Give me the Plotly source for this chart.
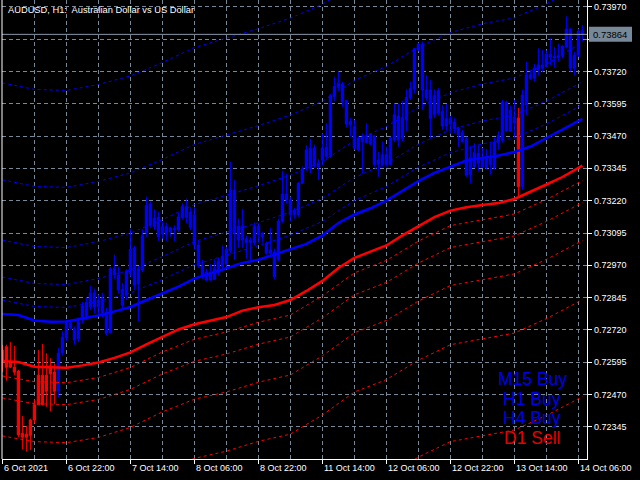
import plotly.graph_objects as go

# ---------------- data (prices in points = 1e-5) ----------------
bar_index = list(range(146))
open_pts = [72642, 72655, 72591, 72576, 72561, 72320, 72305, 72312, 72372, 72431,
            72545, 72483, 72581, 72483, 72483, 72632, 72689, 72746, 72681, 72686,
            72759, 72771, 72810, 72864, 72836, 72844, 72787, 72710, 72957, 72932,
            72816, 72854, 72939, 73037, 72898, 72952, 73096, 73208, 73153, 73156,
            73091, 73120, 73099, 73107, 73107, 73156, 73197, 73177, 73165, 73049,
            72968, 72944, 72913, 72916, 72941, 72965, 72975, 73027, 73262, 73068,
            73122, 73073, 73058, 73058, 73122, 73094, 73055, 73030, 73022, 72991,
            73141, 73246, 73223, 73166, 73166, 73288, 73344, 73344, 73424, 73352,
            73378, 73391, 73391, 73623, 73675, 73672, 73607, 73528, 73507, 73417,
            73450, 73445, 73478, 73471, 73360, 73398, 73360, 73360, 73553, 73455,
            73460, 73533, 73618, 73651, 73827, 73827, 73649, 73649, 73553, 73646,
            73566, 73509, 73538, 73525, 73502, 73484, 73460, 73321, 73352, 73404,
            73386, 73347, 73360, 73347, 73445, 73455, 73602, 73489, 73544, 73540,
            73275, 73591, 73694, 73694, 73745, 73733, 73740, 73787, 73779, 73774,
            73779, 73815, 73885, 73733, 73784, 73877]
high_pts = [72662, 72663, 72673, 72658, 72565, 72387, 72348, 72377, 72452, 72642,
            72666, 72630, 72611, 72591, 72650, 72715, 72759, 72759, 72733, 72769,
            72828, 72848, 72890, 72880, 72857, 72864, 72805, 72964, 73011, 72965,
            72901, 72955, 73112, 73045, 72965, 73110, 73236, 73218, 73187, 73177,
            73138, 73135, 73120, 73125, 73174, 73210, 73228, 73196, 73196, 73068,
            72991, 72957, 72975, 72994, 73001, 73048, 73042, 73370, 73300, 73151,
            73189, 73086, 73079, 73135, 73133, 73099, 73063, 73115, 73035, 73151,
            73336, 73324, 73236, 73192, 73293, 73352, 73435, 73460, 73437, 73381,
            73481, 73520, 73633, 73700, 73721, 73680, 73610, 73540, 73533, 73471,
            73481, 73520, 73482, 73473, 73409, 73450, 73429, 73468, 73597, 73597,
            73607, 73651, 73680, 73811, 73832, 73836, 73706, 73687, 73651, 73656,
            73590, 73595, 73548, 73540, 73507, 73494, 73468, 73432, 73442, 73437,
            73424, 73420, 73442, 73463, 73489, 73610, 73607, 73587, 73610, 73579,
            73649, 73758, 73725, 73750, 73810, 73804, 73802, 73849, 73815, 73828,
            73823, 73934, 73888, 73797, 73885, 73900]
low_pts = [72557, 72524, 72573, 72545, 72306, 72258, 72250, 72255, 72359, 72430,
           72428, 72423, 72405, 72433, 72459, 72622, 72678, 72723, 72663, 72673,
           72747, 72759, 72797, 72785, 72779, 72769, 72697, 72707, 72918, 72862,
           72797, 72836, 72926, 72875, 72754, 72944, 73081, 73115, 73107, 73065,
           73073, 73065, 73081, 73063, 73099, 73146, 73133, 73107, 73030, 72960,
           72918, 72910, 72911, 72913, 72929, 72957, 72965, 73017, 72991, 73037,
           73037, 72996, 72991, 73048, 73058, 73058, 73011, 73011, 72916, 72986,
           73135, 73210, 73141, 73151, 73158, 73285, 73336, 73326, 73347, 73300,
           73357, 73378, 73386, 73607, 73649, 73584, 73504, 73468, 73417, 73411,
           73326, 73442, 73436, 73352, 73313, 73352, 73352, 73357, 73447, 73429,
           73450, 73489, 73610, 73636, 73798, 73571, 73607, 73460, 73540, 73552,
           73494, 73491, 73478, 73481, 73429, 73445, 73313, 73288, 73347, 73334,
           73347, 73342, 73321, 73342, 73417, 73445, 73486, 73486, 73467, 73236,
           73262, 73552, 73687, 73681, 73707, 73718, 73735, 73745, 73735, 73758,
           73771, 73810, 73720, 73707, 73776, 73836]
close_pts = [72596, 72576, 72576, 72557, 72314, 72305, 72317, 72372, 72431, 72545,
             72431, 72545, 72550, 72557, 72630, 72692, 72743, 72728, 72725, 72751,
             72813, 72826, 72863, 72808, 72810, 72787, 72707, 72957, 72934, 72875,
             72877, 72947, 73032, 72893, 72957, 73086, 73202, 73125, 73120, 73081,
             73120, 73089, 73115, 73112, 73158, 73197, 73156, 73118, 73049, 72970,
             72929, 72913, 72942, 72957, 72987, 73004, 73032, 73262, 73094, 73122,
             73068, 73058, 73068, 73120, 73089, 73081, 73017, 73017, 72926, 73141,
             73246, 73223, 73166, 73184, 73288, 73344, 73417, 73422, 73355, 73365,
             73424, 73427, 73626, 73662, 73659, 73602, 73517, 73514, 73424, 73463,
             73466, 73468, 73440, 73360, 73378, 73360, 73398, 73463, 73455, 73548,
             73540, 73620, 73654, 73809, 73804, 73649, 73618, 73538, 73628, 73559,
             73509, 73538, 73517, 73499, 73476, 73450, 73319, 73386, 73406, 73365,
             73350, 73386, 73388, 73447, 73473, 73602, 73491, 73571, 73521, 73275,
             73629, 73707, 73709, 73733, 73727, 73745, 73787, 73776, 73774, 73781,
             73818, 73885, 73733, 73784, 73877, 73864]
red_bars = list(range(0, 14)) + [129]

ma_index = list(range(0, 145, 4)) + [145]
blue_ma_pts = [72782, 72778, 72757, 72752, 72753, 72764, 72776, 72792, 72809, 72836,
               72861, 72888, 72919, 72939, 72956, 72979, 72992, 73012, 73033, 73053,
               73086, 73134, 73167, 73191, 73221, 73260, 73296, 73328, 73352, 73376,
               73386, 73395, 73409, 73430, 73463, 73496, 73529, 73537]
red_ma_pts = [72600, 72596, 72578, 72575, 72574, 72583, 72594, 72612, 72633, 72664,
              72693, 72722, 72742, 72756, 72770, 72795, 72808, 72817, 72836, 72871,
              72910, 72960, 72999, 73023, 73047, 73086, 73122, 73157, 73182, 73195,
              73204, 73211, 73227, 73254, 73283, 73312, 73349, 73356]

band_index = list(range(0, 145, 8)) + [145]
blue_bands_pts = [
    [72836, 72811, 72807, 72830, 72863, 72915, 72973, 73010, 73046, 73087,
     73140, 73221, 73275, 73350, 73406, 73440, 73463, 73517, 73583, 73599],
    [72925, 72900, 72896, 72919, 72952, 73004, 73062, 73099, 73135, 73176,
     73229, 73310, 73364, 73439, 73495, 73529, 73552, 73606, 73672, 73688],
    [73068, 73043, 73039, 73062, 73095, 73147, 73205, 73242, 73278, 73319,
     73372, 73453, 73507, 73582, 73638, 73672, 73695, 73749, 73826, 73834],
    [73301, 73276, 73272, 73295, 73328, 73380, 73438, 73475, 73511, 73552,
     73605, 73686, 73740, 73815, 73871, 73905, 73928, 73982, 74048, 74056],
    [73676, 73651, 73647, 73670, 73703, 73755, 73813, 73850, 73886, 73927,
     73980, 74061, 74115, 74190, 74246, 74280, 74303, 74357, 74423, 74431],
]
red_bands_pts = [
    [72542, 72520, 72516, 72536, 72575, 72635, 72684, 72712, 72750, 72778,
     72852, 72941, 72989, 73064, 73124, 73146, 73169, 73225, 73291, 73298],
    [72457, 72435, 72431, 72451, 72490, 72550, 72599, 72627, 72665, 72693,
     72767, 72856, 72904, 72979, 73039, 73061, 73084, 73140, 73206, 73213],
    [72310, 72288, 72284, 72304, 72343, 72403, 72452, 72480, 72518, 72546,
     72620, 72709, 72757, 72832, 72892, 72914, 72937, 72993, 73059, 73066],
    [72081, 72059, 72055, 72075, 72114, 72174, 72223, 72251, 72289, 72317,
     72391, 72480, 72528, 72603, 72663, 72685, 72708, 72764, 72830, 72837],
    [71706, 71684, 71680, 71700, 71739, 71799, 71848, 71876, 71914, 71942,
     72016, 72105, 72153, 72228, 72288, 72310, 72333, 72389, 72455, 72462],
]

x_tick_idx = list(range(0, 145, 16))
x_tick_labels = ["6 Oct 2021", "6 Oct 22:00", "7 Oct 14:00", "8 Oct 06:00", "8 Oct 22:00",
                 "11 Oct 14:00", "12 Oct 06:00", "12 Oct 22:00", "13 Oct 14:00", "14 Oct 06:00"]
grid_idx = list(range(0, 145, 8))
y_ticks = [0.73970, 0.73845, 0.73720, 0.73595, 0.73470, 0.73345, 0.73220, 0.73095,
           0.72970, 0.72845, 0.72720, 0.72595, 0.72470, 0.72345]
hidden_tick = 0.73845          # covered by the bid-price box in the reference
bid_price = 0.73864
title_text = "AUDUSD, H1:  Australian Dollar vs US Dollar"
signals = [("M15 Buy", "#0000e8"), ("H1 Buy", "#0000e8"), ("H4 Buy", "#0000e8"), ("D1 Sell", "#e80000")]

# ---------------- styling ----------------
BG = "#000000"
GRID = "#778899"
BLUE = "#0000ff"
RED = "#ff0000"
FONT = "Liberation Sans, Arial, sans-serif"
SC = 1e5

def sel(arr, idx):
    return [arr[i] / SC for i in idx]

blue_bars = [i for i in bar_index if i not in red_bars]

fig = go.Figure()
for idx, col in ((red_bars, RED), (blue_bars, BLUE)):
    fig.add_trace(go.Candlestick(
        x=idx, open=sel(open_pts, idx), high=sel(high_pts, idx),
        low=sel(low_pts, idx), close=sel(close_pts, idx),
        increasing=dict(line=dict(color=col, width=1), fillcolor=col),
        decreasing=dict(line=dict(color=col, width=1), fillcolor=col),
        whiskerwidth=0, hoverinfo="skip", showlegend=False))

for band in blue_bands_pts:
    fig.add_trace(go.Scatter(x=band_index, y=[v / SC for v in band], mode="lines",
                             line=dict(color=BLUE, width=1, dash="3px,3px"),
                             hoverinfo="skip", showlegend=False))
for band in red_bands_pts:
    fig.add_trace(go.Scatter(x=band_index, y=[v / SC for v in band], mode="lines",
                             line=dict(color=RED, width=1, dash="3px,3px"),
                             hoverinfo="skip", showlegend=False))

fig.add_trace(go.Scatter(x=ma_index, y=[v / SC for v in blue_ma_pts], mode="lines",
                         line=dict(color=BLUE, width=2.5), hoverinfo="skip", showlegend=False))
fig.add_trace(go.Scatter(x=ma_index, y=[v / SC for v in red_ma_pts], mode="lines",
                         line=dict(color=RED, width=2.5), hoverinfo="skip", showlegend=False))

px_per_price = 459 / (0.73997 - 0.722207)
box_half = 7.5 / px_per_price

annotations = [
    dict(xref="paper", yref="paper", x=0.006, y=1, yshift=-3, xanchor="left", yanchor="top",
         text=title_text, showarrow=False, font=dict(color="white", size=9.3, family=FONT)),
    dict(xref="paper", yref="y", x=(610 - 2) / 585, y=bid_price, xanchor="center", yanchor="middle",
         text=f"{bid_price:.5f}", showarrow=False,
         font=dict(color="black", size=9.5, family=FONT)),
]
# time labels, left-aligned at their tick like the terminal does
for xi, lab in zip(x_tick_idx, x_tick_labels):
    annotations.append(dict(xref="x", yref="paper", x=xi, y=0, yshift=-9, xanchor="left",
                            yanchor="middle", text=lab, showarrow=False,
                            font=dict(color="white", size=9, family=FONT)))
# price labels on the right scale
for v in y_ticks:
    if v == hidden_tick:
        continue
    annotations.append(dict(xref="paper", yref="y", x=1, xshift=5, y=v, xanchor="left",
                            yanchor="middle", text=f"{v:.5f}", showarrow=False,
                            font=dict(color="white", size=9, family=FONT)))
sig_y = [0.1743, 0.1314, 0.0886, 0.0458]
for (txt, col), yy in zip(signals, sig_y):
    annotations.append(dict(xref="paper", yref="paper", x=0.906, y=yy, xanchor="center",
                            yanchor="middle", text=txt, showarrow=False,
                            font=dict(color=col, size=17.5, family=FONT)))

fig.update_layout(
    width=640, height=480, margin=dict(l=2, r=53, t=0, b=21, autoexpand=False),
    paper_bgcolor=BG, plot_bgcolor=BG, showlegend=False,
    boxgap=0.42, boxgroupgap=0.0,
    annotations=annotations,
    shapes=[
        dict(type="line", xref="paper", yref="y", x0=0, x1=1, y0=bid_price, y1=bid_price,
             line=dict(color="#8896a8", width=1)),
        dict(type="line", xref="paper", yref="paper", x0=0, x1=0, y0=0, y1=1,
             line=dict(color="white", width=1)),
        dict(type="rect", xref="paper", yref="y", x0=(589 - 2) / 585, x1=(632 - 2) / 585,
             y0=bid_price - box_half, y1=bid_price + box_half,
             fillcolor=GRID, line=dict(width=0), layer="above"),
    ],
    xaxis=dict(range=[-0.1, 146.15], rangeslider=dict(visible=False), automargin=False,
               tickmode="array", tickvals=x_tick_idx, showticklabels=False,
               ticks="outside", ticklen=4, tickcolor="white",
               showgrid=True, gridcolor=GRID, gridwidth=1, griddash="4px,3px",
               minor=dict(tickmode="array", tickvals=grid_idx, showgrid=True,
                          gridcolor=GRID, gridwidth=1, griddash="4px,3px"),
               showline=True, linecolor="white", linewidth=1, zeroline=False, fixedrange=True),
    yaxis=dict(range=[0.722207, 0.73997], side="right", automargin=False,
               tickmode="array", tickvals=y_ticks, showticklabels=False,
               ticks="outside", ticklen=4, tickcolor="white",
               showgrid=True, gridcolor=GRID, gridwidth=1, griddash="4px,3px",
               showline=True, linecolor="white", linewidth=1, zeroline=False, fixedrange=True),
)

fig.write_html("out.html", config={"displayModeBar": False},
               post_script="document.body.style.margin='0';document.body.style.background='#000';")
